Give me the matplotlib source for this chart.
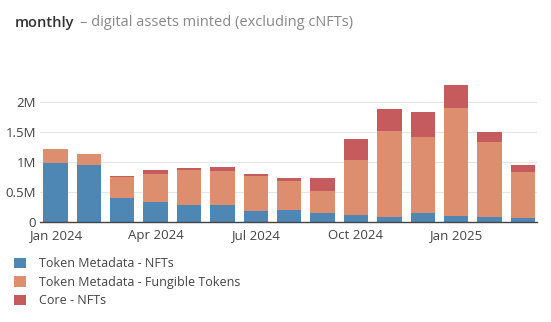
import matplotlib
matplotlib.use("Agg")
import matplotlib.pyplot as plt
from matplotlib.patches import Patch
import numpy as np

months = ["Jan 2024", "Feb 2024", "Mar 2024", "Apr 2024", "May 2024", "Jun 2024",
          "Jul 2024", "Aug 2024", "Sep 2024", "Oct 2024", "Nov 2024", "Dec 2024",
          "Jan 2025", "Feb 2025", "Mar 2025"]
tick_labels = ["Jan 2024", "Apr 2024", "Jul 2024", "Oct 2024", "Jan 2025"]
tick_months = ["Jan 2024", "Apr 2024", "Jul 2024", "Oct 2024", "Jan 2025"]

# monthly mint counts (millions)
nfts = [0.993, 0.955, 0.405, 0.345, 0.283, 0.295, 0.188, 0.210, 0.160, 0.127,
        0.083, 0.150, 0.100, 0.083, 0.067]
fungible = [0.227, 0.185, 0.355, 0.465, 0.594, 0.565, 0.589, 0.483, 0.367, 0.911,
            1.437, 1.277, 1.793, 1.260, 0.771]
core_nfts = [0.0, 0.0, 0.012, 0.067, 0.028, 0.055, 0.033, 0.050, 0.216, 0.350,
             0.363, 0.400, 0.395, 0.157, 0.112]

series_names = ["Token Metadata - NFTs", "Token Metadata - Fungible Tokens", "Core - NFTs"]
colors = ["#4e86b4", "#dc8e6e", "#c65b5e"]

plt.rcParams["font.family"] = ["Open Sans", "DejaVu Sans"]

W, H = 551, 322
fig = plt.figure(figsize=(W / 100, H / 100), dpi=100)
ax = fig.add_axes([40 / W, (H - 222.3) / H, (537 - 40) / W, (222.3 - 78) / H])

x = np.arange(len(months))
a = np.array(nfts) * 1e6
b = np.array(fungible) * 1e6
c = np.array(core_nfts) * 1e6
width = 0.73
ax.bar(x, a, width, color=colors[0], zorder=2)
ax.bar(x, b, width, bottom=a, color=colors[1], zorder=2)
ax.bar(x, c, width, bottom=a + b, color=colors[2], zorder=2)

ax.set_xlim(-0.46, len(months) - 1 + 0.42)
ax.set_ylim(0, 2.4e6)
ax.set_yticks([0, 0.5e6, 1e6, 1.5e6, 2e6])
ax.set_yticklabels(["0", "0.5M", "1M", "1.5M", "2M"])
ax.set_xticks([months.index(m) for m in tick_months])
ax.set_xticklabels(tick_labels)
ax.tick_params(axis="both", length=0, labelsize=9.5, colors="#444444")
ax.tick_params(axis="y", pad=3)
ax.tick_params(axis="x", pad=5)
ax.grid(axis="y", color="#e6e6e6", linewidth=0.8, zorder=0)
for s in ["top", "right", "left"]:
    ax.spines[s].set_visible(False)
ax.spines["bottom"].set_color("#444444")
ax.spines["bottom"].set_linewidth(1)
ax.spines["bottom"].set_zorder(3)

fig.text(15 / W, 1 - 23 / H, "monthly", fontsize=10.5, fontweight="semibold",
         color="#333333", va="center", ha="left")
fig.text(80 / W, 1 - 23 / H, "– digital assets minted (excluding cNFTs)", fontsize=10.5,
         color="#888888", va="center", ha="left")

handles = [Patch(facecolor=col, edgecolor="none") for col in colors]
fig.legend(handles, series_names, loc="upper left", bbox_to_anchor=(3 / W, 1 - 246 / H),
           frameon=False, fontsize=9, handlelength=0.9, handleheight=0.9,
           handletextpad=1.1, labelspacing=0.45, labelcolor="#444444")

fig.savefig("out.png", dpi=100)
